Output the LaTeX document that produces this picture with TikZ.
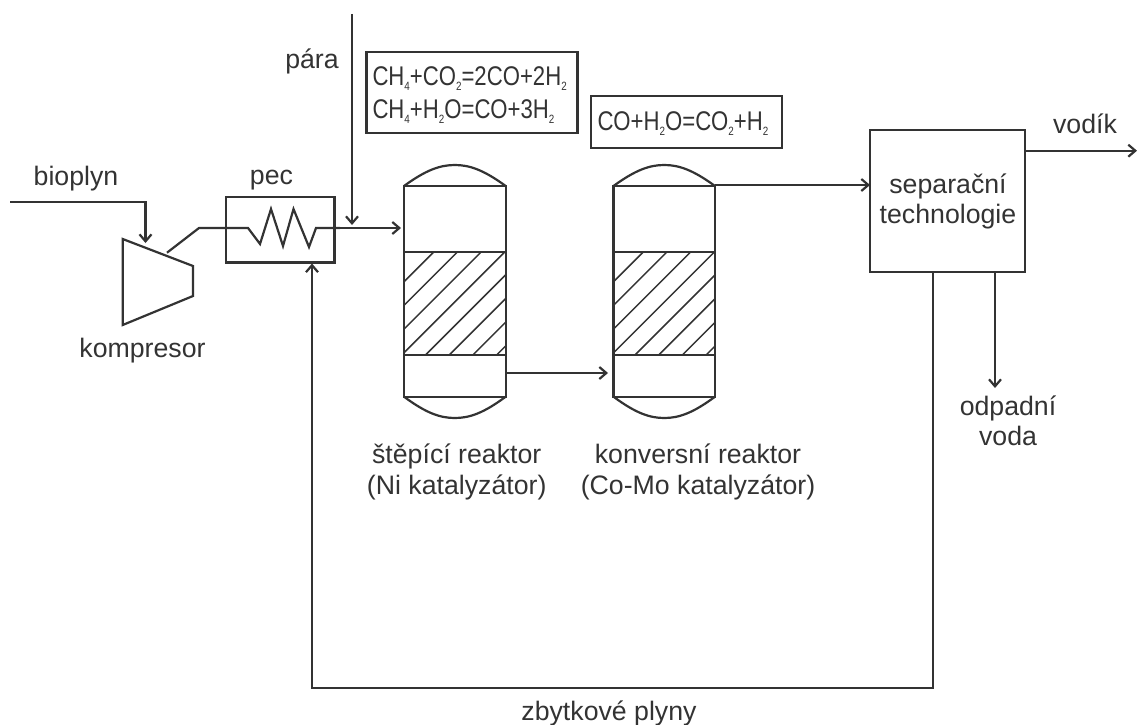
\documentclass[tikz,border=0pt]{standalone}
\usepackage{fontspec}
\usepackage{graphicx}
\setmainfont{Liberation Sans}
\usetikzlibrary{arrows.meta}
\definecolor{ink}{HTML}{333333}
\tikzset{
  line/.style={draw=ink,line width=2.2pt,line join=miter},
  flow/.style={line,-{Straight Barb[length=7pt,width=12pt,line width=2.2pt]}},
  lbl/.style={text=ink,font=\fontsize{26.7}{30}\selectfont,anchor=base,inner sep=0pt,outer sep=0pt},
  eqn/.style={text=ink,font=\fontsize{27}{30}\selectfont,anchor=base west,inner sep=0pt,outer sep=0pt},
  boxed/.style={line,rectangle,inner sep=0pt,outer sep=0pt,anchor=north west},
  hatchline/.style={draw=ink,line width=1.5pt},
}
\newcommand{\fm}[1]{\scalebox{0.82}[1]{#1}}
\newcommand{\sub}[1]{\raisebox{-5pt}{\fontsize{12}{12}\selectfont #1}}
\begin{document}
\begin{tikzpicture}[x=1pt,y=-1pt]
\useasboundingbox (0,0) rectangle (1137,725);
% boxes
\node[boxed,minimum width=108.5pt,minimum height=65.5pt] (pec) at (226,197) {};
\node[boxed,minimum width=211pt,minimum height=81.5pt] (eq1) at (366.5,51.7) {};
\node[boxed,minimum width=190.7pt,minimum height=52pt] (eq2) at (591,96) {};
\node[boxed,minimum width=155pt,minimum height=142pt] (sep) at (870,130) {};
\node[boxed,minimum width=101.7pt,minimum height=210.7pt] (r1) at (404,186) {};
\node[boxed,minimum width=101.5pt,minimum height=210.7pt] (r2) at (613.5,186) {};
% reactor details
\foreach \xa/\xb in {404/505.7,613.5/715}{
  \draw[line] (\xa,186) .. controls (\xa+22,170) and (\xa+36,165) .. ({(\xa+\xb)/2},165)
     .. controls (\xb-36,165) and (\xb-22,170) .. (\xb,186);
  \draw[line] (\xa,396.7) .. controls (\xa+22,413) and (\xa+36,418) .. ({(\xa+\xb)/2},418)
     .. controls (\xb-36,418) and (\xb-22,413) .. (\xb,396.7);
  \draw[line] (\xa,251.7) -- (\xb,251.7);
  \draw[line] (\xa,355) -- (\xb,355);
  \begin{scope}
    \clip (\xa,251.7) rectangle (\xb,355);
    \foreach \k in {0,...,7}{
      \draw[hatchline] (\xa,{281.7+\k*23.7}) -- (\xa+140,{141.7+\k*23.7});
    }
  \end{scope}
}
% compressor
\draw[line] (122.7,239) coordinate (kb) -- (193,266) -- (193,296) -- (122.7,325) -- cycle;
\coordinate (kin) at (145.5,243);
\coordinate (kout) at (167,252.7);
\coordinate (bio) at (10,202);
\draw[flow] (bio) -| (kin);
% heater path
\coordinate (steam) at (352,14);
\coordinate (mix) at (352,225);
\draw[line] (kout) -- (199,228) -- (248,228) -- (260,244) -- (271,209) -- (283,246) -- (293.5,209) -- (309,247) -- (316,228) -- (340,228);
\coordinate (r1in) at (401,228);
\draw[flow] (316,228) -- (r1in);
\draw[flow] (steam) -- (mix);
% between reactors
\coordinate (r1out) at (505.7,373);
\coordinate (r2in) at (608,373);
\draw[flow] (r1out) -- (r2in);
% to separator
\coordinate (r2out) at (715,185);
\draw[flow] (r2out) -- (r2out -| sep.west);
% outputs
\coordinate (h2s) at (1025,150.7);
\coordinate (h2e) at (1137,150.7);
\draw[flow] (h2s) -- (h2e);
\coordinate (ws) at (995,272);
\coordinate (we) at (995,388);
\draw[flow] (ws) -- (we);
\coordinate (rs) at (932.7,272);
\coordinate (rc) at (932.7,688);
\coordinate (rd) at (312,688);
\coordinate (re) at (312,263.5);
\draw[flow] (rs) -- (rc) -- (rd) -- (re);
% labels
\node[lbl] (tbio) at (76,185) {bioplyn};
\node[lbl] (tpec) at (271.5,184) {pec};
\node[lbl] (tkom) at (142.5,357) {kompresor};
\node[lbl] (tpara) at (312,68) {pára};
\node[lbl] (tsep1) at (948,193) {separační};
\node[lbl] (tsep2) at (948,223) {technologie};
\node[lbl] (tvod) at (1085,133) {vodík};
\node[lbl] (todp) at (1008,415) {odpadní};
\node[lbl] (tvoda) at (1008,445) {voda};
\node[lbl] (ts1) at (456.7,463) {štěpící reaktor};
\node[lbl] (ts2) at (456.7,494) {(Ni katalyzátor)};
\node[lbl] (tk1) at (698,463) {konversní reaktor};
\node[lbl] (tk2) at (698,494) {(Co-Mo katalyzátor)};
\node[lbl] (tzb) at (609,720) {zbytkové plyny};
\node[eqn] (q1) at (372.5,85.5) {\fm{CH\sub{4}+CO\sub{2}=2CO+2H\sub{2}}};
\node[eqn] (q2) at (372.5,118.5) {\fm{CH\sub{4}+H\sub{2}O=CO+3H\sub{2}}};
\node[eqn] (q3) at (597.5,130.5) {\fm{CO+H\sub{2}O=CO\sub{2}+H\sub{2}}};
\end{tikzpicture}
\end{document}
